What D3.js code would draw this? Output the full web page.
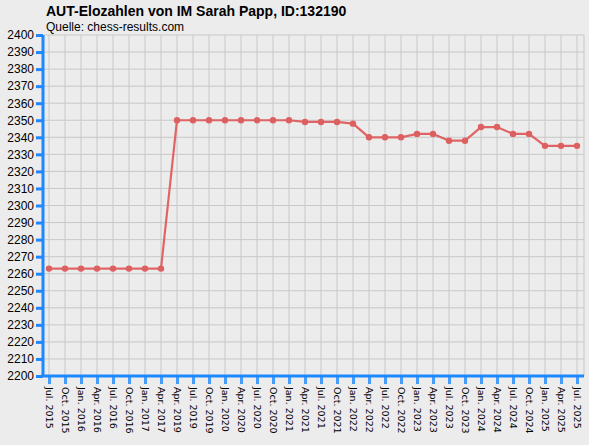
<!DOCTYPE html><html><head><meta charset="utf-8"><script src="https://cdn.jsdelivr.net/npm/d3@7"></script>
<style>body{margin:0;background:#ececec}svg{display:block}</style></head><body><svg id="c" width="589" height="445"></svg>
<script>
const labels=["Jul. 2015","Oct. 2015","Jan. 2016","Apr. 2016","Jul. 2016","Oct. 2016","Jan. 2017","Apr. 2017","Apr. 2019","Jul. 2019","Oct. 2019","Jan. 2020","Apr. 2020","Jul. 2020","Oct. 2020","Jan. 2021","Apr. 2021","Jul. 2021","Oct. 2021","Jan. 2022","Apr. 2022","Jul. 2022","Oct. 2022","Jan. 2023","Apr. 2023","Jul. 2023","Oct. 2023","Jan. 2024","Apr. 2024","Jul. 2024","Oct. 2024","Jan. 2025","Apr. 2025","Jul. 2025"];
const elo=[2263,2263,2263,2263,2263,2263,2263,2263,2350,2350,2350,2350,2350,2350,2350,2350,2349,2349,2349,2348,2340,2340,2340,2342,2342,2338,2338,2346,2346,2342,2342,2335,2335,2335];
const yTicks=d3.range(2200,2401,10);
const svg=d3.select("#c");
svg.append("rect").attr("width",589).attr("height",445).attr("fill","#ececec");
const x=d3.scalePoint().domain(labels).range([49,577]);
const y=d3.scaleLinear().domain([2200,2400]).range([376,35]);
const g=svg.append("g");
yTicks.forEach(t=>g.append("line").attr("x1",44).attr("x2",584).attr("y1",y(t)).attr("y2",y(t)).attr("stroke","#c8c8c8"));
labels.forEach(l=>g.append("line").attr("x1",x(l)).attr("x2",x(l)).attr("y1",35).attr("y2",376).attr("stroke","#c8c8c8"));
g.append("line").attr("x1",584).attr("x2",584).attr("y1",35).attr("y2",376).attr("stroke","#c8c8c8");
const ya=svg.append("g").attr("transform","translate(43,0)").call(d3.axisLeft(y).tickValues(yTicks).tickSize(7).tickPadding(2).tickFormat(d3.format("d")));
ya.select(".domain").attr("stroke","#1e88ff").attr("stroke-width",3).attr("d","M0,35V377");
ya.selectAll(".tick line").attr("stroke","#1e88ff").attr("stroke-width",3);
ya.selectAll("text").attr("font-family","Liberation Sans, Arial").attr("font-size",12).attr("fill","#000");
const xa=svg.append("g").attr("transform","translate(0,376)").call(d3.axisBottom(x).tickSize(8).tickPadding(4));
xa.select(".domain").attr("stroke","#1e88ff").attr("stroke-width",3).attr("d","M41,0H584");
xa.selectAll(".tick line").attr("stroke","#1e88ff").attr("stroke-width",3).attr("stroke-opacity",0.8);
xa.selectAll("text").attr("font-family","DejaVu Sans, sans-serif").attr("font-size",9.5).attr("fill","#000")
 .attr("transform","rotate(90)").attr("text-anchor","start").attr("dy","0.35em").attr("x",11).attr("y",0);
svg.append("path").datum(elo).attr("fill","none").attr("stroke","#e06464").attr("stroke-width",2.2)
 .attr("d",d3.line().x((d,i)=>x(labels[i])).y(d=>y(d)));
svg.selectAll("circle").data(elo).join("circle").attr("cx",(d,i)=>x(labels[i])).attr("cy",d=>y(d)).attr("r",3.2).attr("fill","#dd6060");
svg.append("text").attr("x",46).attr("y",16).attr("font-family","Liberation Sans, Arial").attr("font-weight","bold").attr("font-size",14).text("AUT-Elozahlen von IM Sarah Papp, ID:132190");
svg.append("text").attr("x",46).attr("y",31).attr("font-family","Liberation Sans, Arial").attr("font-size",12).text("Quelle: chess-results.com");
</script></body></html>
